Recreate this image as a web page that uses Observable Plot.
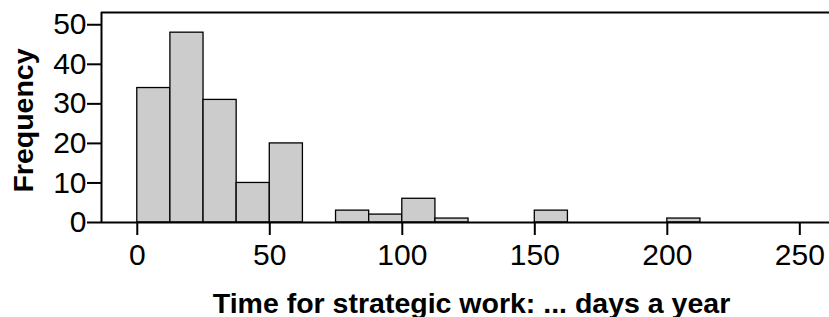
<!DOCTYPE html>
<html><head><meta charset="utf-8">
<script src="https://cdn.jsdelivr.net/npm/d3@7"></script>
<script src="https://cdn.jsdelivr.net/npm/@observablehq/plot@0.6"></script>
<style>html,body{margin:0;padding:0;background:#fff;overflow:hidden}</style>
</head><body><div id="chart"></div>
<script>
const binLower = [0, 12.5, 25, 37.5, 50, 75, 87.5, 100, 112.5, 150, 200];
const binUpper = [12.5, 25, 37.5, 50, 62.5, 87.5, 100, 112.5, 125, 162.5, 212.5];
const counts = [34, 48, 31, 10, 20, 3, 2, 6, 1, 3, 1];
const xTicks = [0, 50, 100, 150, 200, 250];
const yTicks = [0, 10, 20, 30, 40, 50];
const xDomain = [-13.5, 261.2];
const yDomain = [0, 53.1];
const xTitle = "Time for strategic work: ... days a year";
const yTitle = "Frequency";
const data = counts.map((c, i) => ({x1: binLower[i], x2: binUpper[i], count: c}));

const font = "'Liberation Sans', Arial, Helvetica, sans-serif";
const chart = Plot.plot({
  width: 829, height: 317,
  marginLeft: 101, marginRight: 0, marginTop: 12, marginBottom: 95,
  style: {fontFamily: font, background: "#fff", overflow: "visible", color: "#000"},
  x: {domain: xDomain},
  y: {domain: yDomain},
  marks: [
    Plot.rectY(data, {x1: "x1", x2: "x2", y: "count", fill: "#cccccc", stroke: "#000", strokeWidth: 1.3}),
    Plot.ruleX([xDomain[0]], {strokeWidth: 2, stroke: "#000"}),
    Plot.ruleY([yDomain[0]], {strokeWidth: 2, stroke: "#000"}),
    Plot.ruleY([yDomain[1]], {strokeWidth: 2, stroke: "#000"}),
    Plot.axisX({ticks: xTicks, tickSize: 13, tickPadding: 8, fontSize: 30, strokeWidth: 2, label: null, stroke: "#000"}),
    Plot.axisY({ticks: yTicks, tickSize: 14, tickPadding: 1, fontSize: 30, strokeWidth: 2, label: null, stroke: "#000"}),
    Plot.text([xTitle], {text: d => d, frameAnchor: "bottom", textAnchor: "middle", lineAnchor: "bottom", dx: 6, dy: 90, fontSize: 28.5, fontWeight: "bold", fill: "#000"}),
    Plot.text([yTitle], {text: d => d, frameAnchor: "left", textAnchor: "middle", lineAnchor: "bottom", rotate: -90, dx: -69, dy: 3, fontSize: 28.5, fontWeight: "bold", fill: "#000"})
  ]
});
document.getElementById("chart").appendChild(chart);
</script>
</body></html>
